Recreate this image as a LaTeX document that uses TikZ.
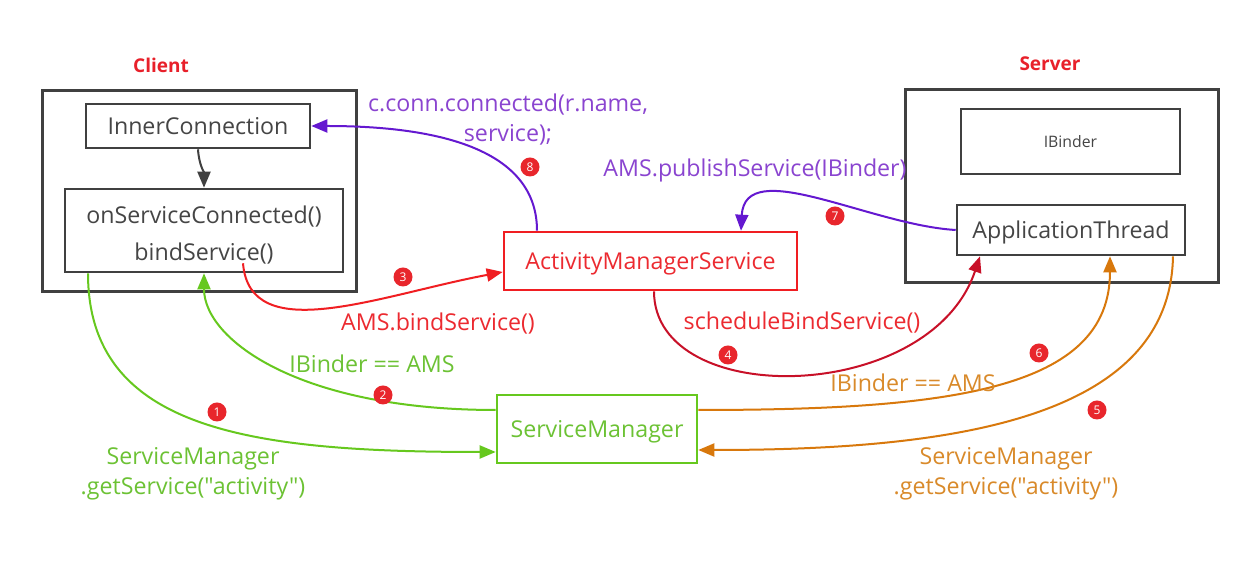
\documentclass[tikz,border=0pt]{standalone}
\usepackage{fontspec}
\setmainfont{Open Sans}[Ligatures=TeXOff]
\usetikzlibrary{arrows.meta}
\definecolor{labred}{HTML}{E8202A}
\definecolor{boxgray}{HTML}{404040}
\definecolor{txtgray}{HTML}{454545}
\definecolor{cgreen}{HTML}{66C81E}
\definecolor{tgreen}{HTML}{6CC234}
\definecolor{cred}{HTML}{F01E22}
\definecolor{tred}{HTML}{EC2A30}
\definecolor{ccrim}{HTML}{C81028}
\definecolor{corange}{HTML}{D8780C}
\definecolor{torange}{HTML}{D98A2A}
\definecolor{cpurple}{HTML}{6418D0}
\definecolor{tpurple}{HTML}{8A44D0}
\definecolor{badgered}{HTML}{E8262C}
\begin{document}
\begin{tikzpicture}[x=0.5pt,y=-0.5pt,
  outerbox/.style={draw=boxgray, line width=1.5pt, inner sep=0pt},
  box/.style={draw=boxgray, line width=1.3pt, inner sep=0pt, text=txtgray, font=\fontsize{11.6}{13}\selectfont, text depth=0pt},
  lab/.style={inner sep=0pt, font=\fontsize{11.6}{15}\selectfont, align=center},
  head/.style={inner sep=0pt, text=labred, font=\fontsize{9.5}{11}\selectfont\bfseries},
  badge/.style={circle, fill=badgered, text=white, minimum size=9.5pt, inner sep=0pt, font=\fontsize{6}{6}\selectfont},
  arr/.style={line width=1pt, -{Triangle[length=8pt,width=6.5pt]}}
]
\useasboundingbox[fill=white] (0,0) rectangle (1244,565);

% headings
\node[head] (hclient) at (161,65) {Client};
\node[head] (hserver) at (1050,64) {Server};

% client side
\node[outerbox, minimum width=157pt, minimum height=100.5pt] (client) at (199,191.5) {};
\node[box, minimum width=112pt, minimum height=22pt] (inner) at (198,126) {InnerConnection};
\node[draw=boxgray, line width=1.3pt, inner sep=0pt, text=txtgray, minimum width=139pt, minimum height=41.5pt, align=center, font=\fontsize{11.6}{18.5}\selectfont] (onsc) at (204,230.5) {\rule{0pt}{13pt}onServiceConnected()\\bindService()};

% server side
\node[outerbox, minimum width=156.5pt, minimum height=96.5pt] (server) at (1061.5,186.5) {};
\node[box, minimum width=109.5pt, minimum height=32.5pt, font=\fontsize{7.9}{9}\selectfont] (ibinder) at (1070.5,141.5) {IBinder};
\node[box, minimum width=114pt, minimum height=25pt] (appthread) at (1071,230) {ApplicationThread};

% middle
\node[box, draw=cred, text=tred, minimum width=146.5pt, minimum height=29pt] (ams) at (650.5,261) {ActivityManagerService};
\node[box, draw=cgreen, text=tgreen, minimum width=100pt, minimum height=34pt] (sm) at (597,429) {ServiceManager};

% black arrow
\draw[arr, draw=boxgray] (inner.south) .. controls (199,165) and (204,172) .. (onsc.north);

% 1 green
\draw[arr, draw=cgreen] ([xshift=-58pt]onsc.south) .. controls (88,430) and (250,452) .. ([yshift=-11.5pt]sm.west);
% 2 green
\draw[arr, draw=cgreen] ([yshift=9.5pt]sm.west) .. controls (300,410) and (204,340) .. (onsc.south);
% 3 red
\draw[arr, draw=cred] ([xshift=19.5pt,yshift=5pt]onsc.south) .. controls (250,348) and (380,295) .. ([yshift=-5.5pt]ams.west);
% 4 crimson
\draw[arr, draw=ccrim] ([xshift=1.75pt]ams.south) .. controls (654,410) and (930,405) .. ([xshift=-45.5pt]appthread.south);
% 5 orange
\draw[arr, draw=corange] ([xshift=51pt]appthread.south) .. controls (1170,420) and (950,450) .. ([yshift=-10.5pt]sm.east);
% 6 orange
\draw[arr, draw=corange] ([yshift=9.5pt]sm.east) .. controls (950,410) and (1110,390) .. ([xshift=19.5pt]appthread.south);
% 7 purple
\draw[arr, draw=cpurple] (appthread.west) .. controls (870,225) and (745,155) .. ([xshift=45.25pt]ams.north);
% 8 purple
\draw[arr, draw=cpurple] ([xshift=-56.75pt]ams.north) .. controls (537,150) and (440,126) .. (inner.east);

% labels
\node[lab, text=tpurple] (l8) at (508,120) {c.conn.connected(r.name,\\service);};
\node[lab, text=tpurple] (l7) at (755,170) {AMS.publishService(IBinder)};
\node[lab, text=tred] (l3) at (438,324) {AMS.bindService()};
\node[lab, text=tred] (l4) at (802,323) {scheduleBindService()};
\node[lab, text=tgreen] (l2) at (372,364) {IBinder == AMS};
\node[lab, text=torange] (l6) at (913,383) {IBinder == AMS};
\node[lab, text=tgreen] (l1) at (193,474) {ServiceManager\\.getService("activity")};
\node[lab, text=torange] (l5) at (1006,474) {ServiceManager\\.getService("activity")};

% badges
\node[badge] (b1) at (217,412) {1};
\node[badge] (b2) at (383,395) {2};
\node[badge] (b3) at (403,277) {3};
\node[badge] (b4) at (728,355) {4};
\node[badge] (b5) at (1097,410) {5};
\node[badge] (b6) at (1039,353) {6};
\node[badge] (b7) at (835,216) {7};
\node[badge] (b8) at (530,167) {8};
\end{tikzpicture}
\end{document}
